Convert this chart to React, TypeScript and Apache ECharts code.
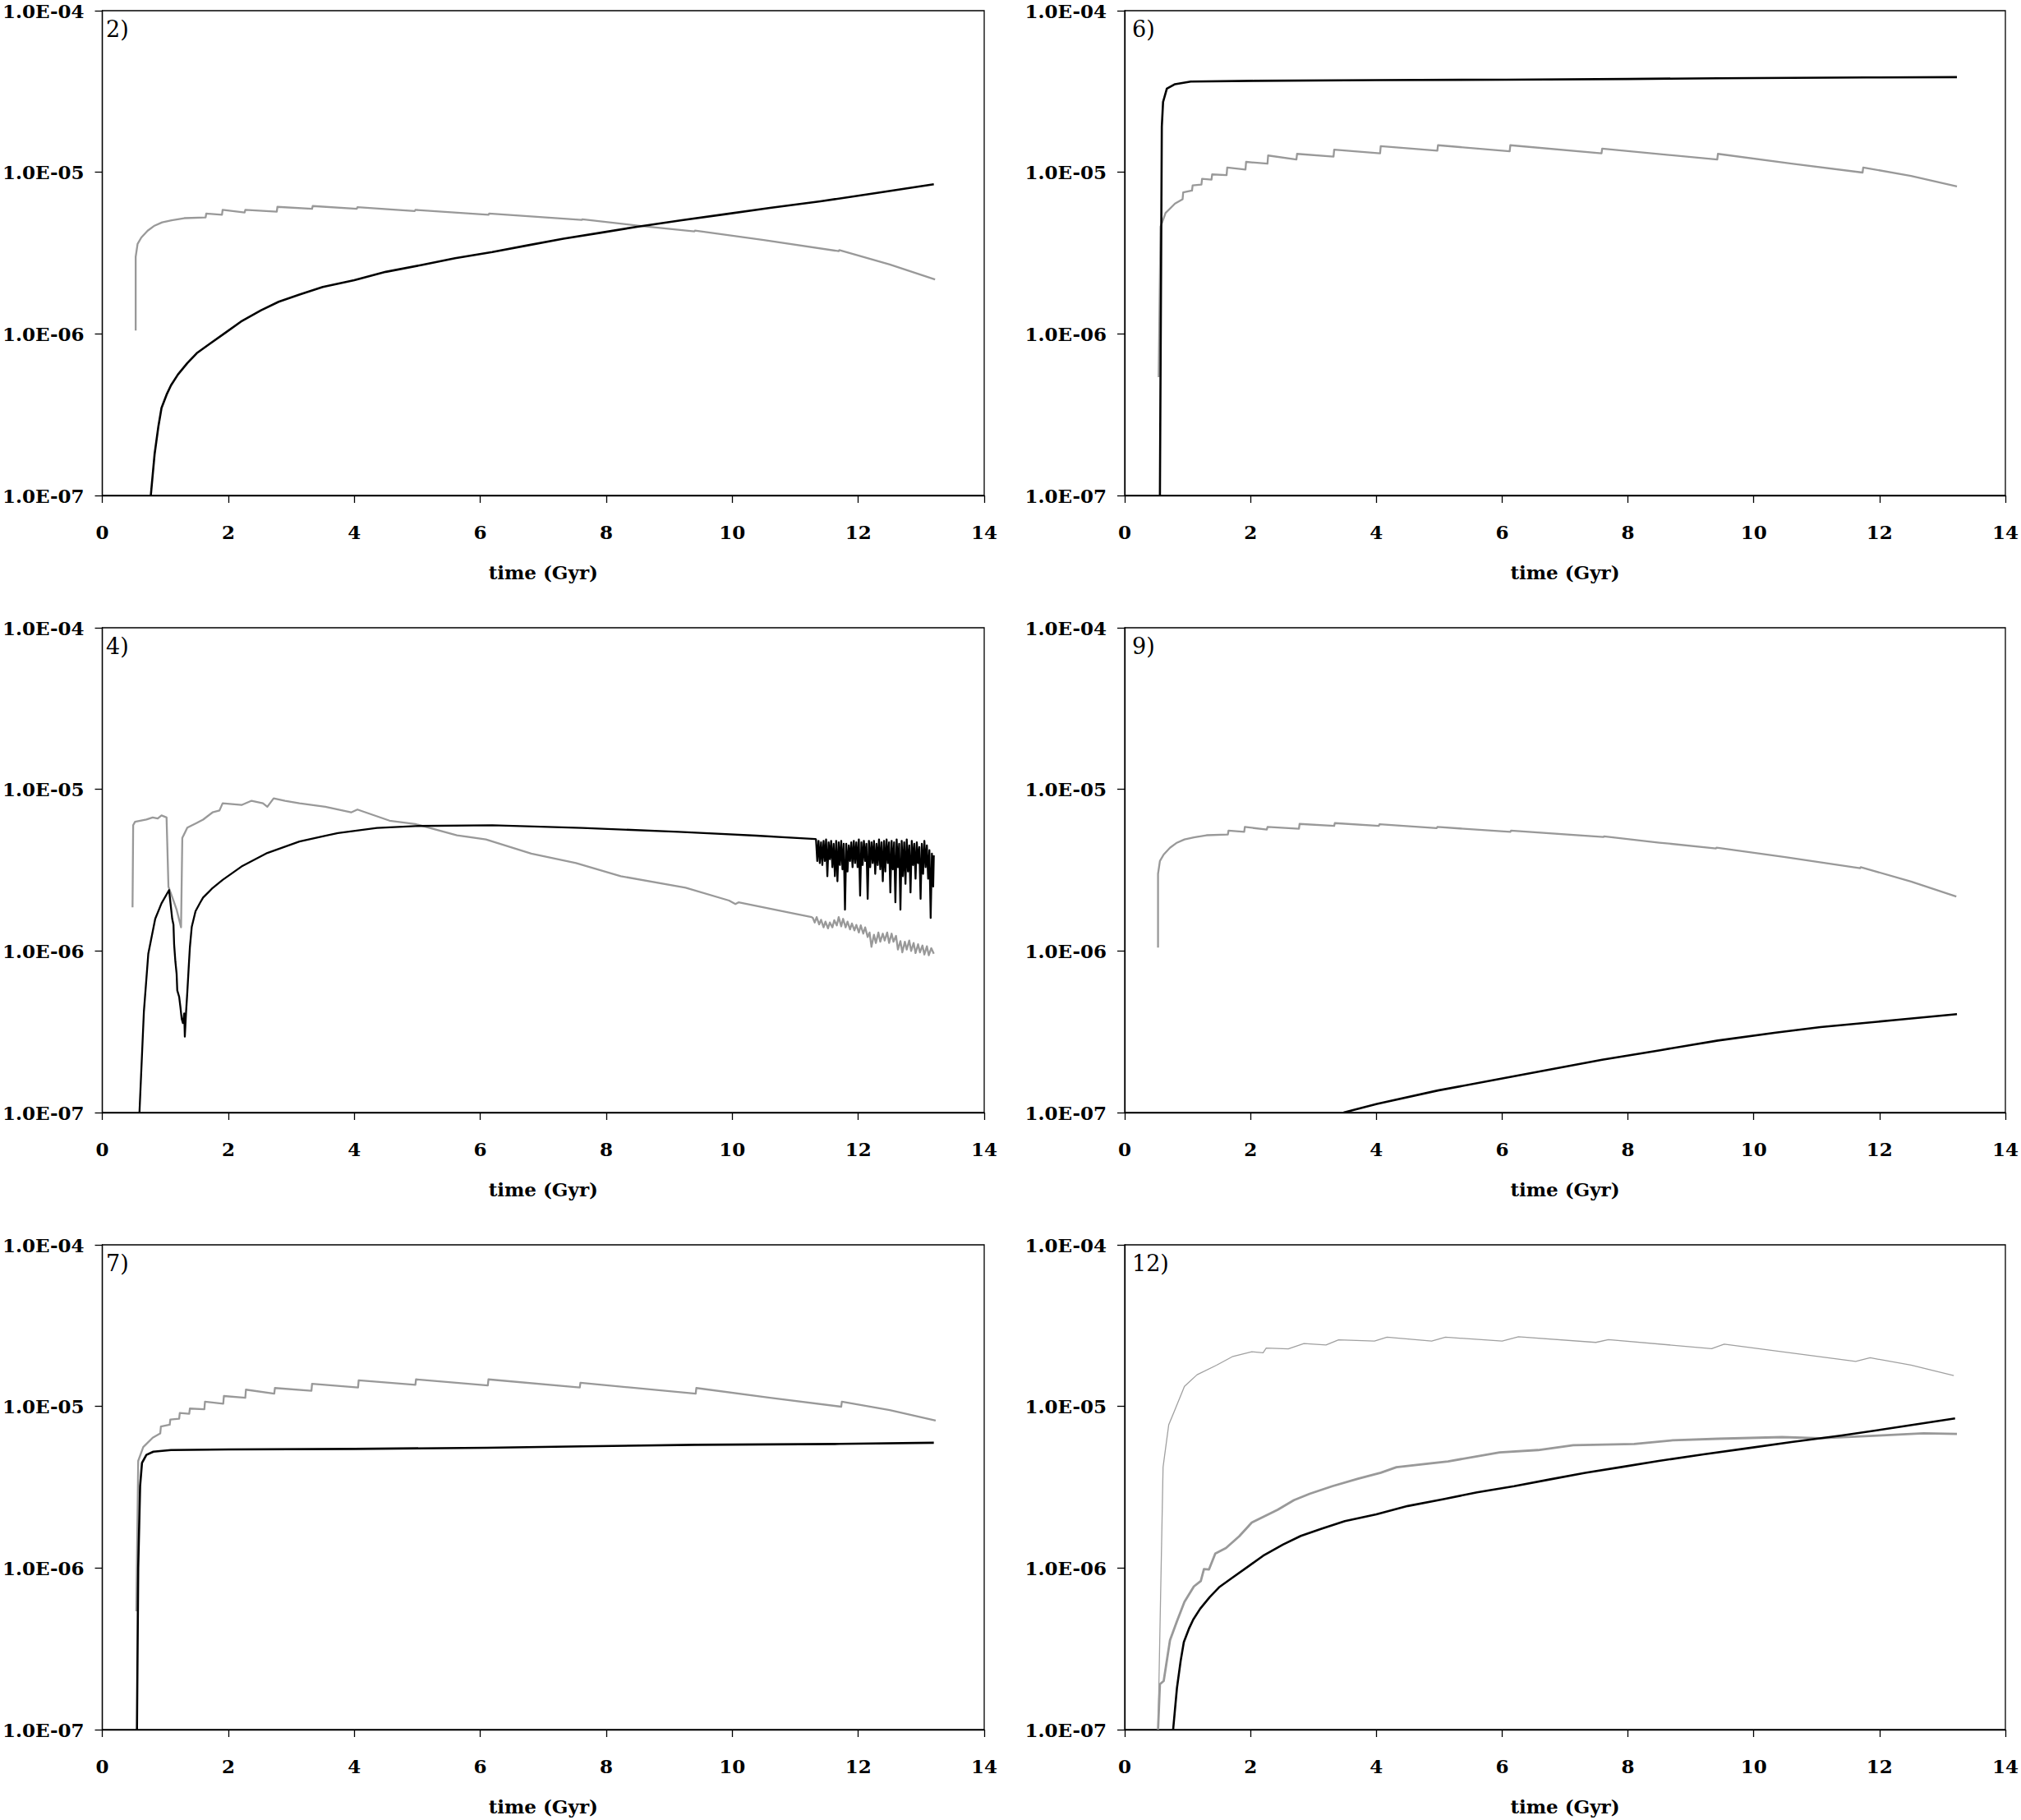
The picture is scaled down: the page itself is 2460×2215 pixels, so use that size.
import React, { useEffect, useRef } from "react";
import * as echarts from "echarts";

// ---------- DATA (time in Gyr, abundance) ----------
const panelLabels = ["2)", "6)", "4)", "9)", "7)", "12)"];

// gray curve shared by panels 2) and 9)
const grayA: number[][] = [
  [0.53, 1.05e-6], [0.53, 3.0e-6], [0.56, 3.6e-6], [0.62, 3.95e-6], [0.72, 4.35e-6],
  [0.82, 4.65e-6], [0.95, 4.9e-6], [1.1, 5.05e-6], [1.3, 5.2e-6], [1.64, 5.26e-6],
  [1.65, 5.55e-6], [1.9, 5.46e-6], [1.91, 5.85e-6], [2.26, 5.64e-6], [2.27, 5.85e-6],
  [2.77, 5.7e-6], [2.78, 6.11e-6], [3.33, 5.94e-6], [3.34, 6.18e-6], [4.04, 5.94e-6],
  [4.05, 6.08e-6], [4.96, 5.76e-6], [4.97, 5.85e-6], [6.13, 5.46e-6], [6.14, 5.55e-6],
  [7.61, 5.07e-6], [7.62, 5.12e-6], [8.5, 4.68e-6], [9.4, 4.31e-6], [9.41, 4.36e-6],
  [10.5, 3.81e-6], [11.69, 3.25e-6], [11.7, 3.3e-6], [12.5, 2.69e-6], [13.22, 2.17e-6],
];

// black curve shared by panels 2) and 12)
const blackA: number[][] = [
  [0.77, 1e-7], [0.83, 1.8e-7], [0.89, 2.67e-7], [0.94, 3.48e-7], [1.02, 4.2e-7],
  [1.09, 4.8e-7], [1.2, 5.6e-7], [1.35, 6.6e-7], [1.5, 7.6e-7], [1.7, 8.65e-7],
  [1.96, 1.02e-6], [2.2, 1.19e-6], [2.52, 1.4e-6], [2.8, 1.58e-6], [3.13, 1.75e-6],
  [3.5, 1.95e-6], [4.0, 2.15e-6], [4.5, 2.42e-6], [5.07, 2.67e-6], [5.6, 2.94e-6],
  [6.19, 3.21e-6], [6.75, 3.53e-6], [7.32, 3.88e-6], [7.9, 4.22e-6], [8.49, 4.6e-6],
  [9.2, 5.05e-6], [9.87, 5.49e-6], [10.6, 6.02e-6], [11.4, 6.61e-6], [12.3, 7.45e-6],
  [13.2, 8.43e-6],
];

// gray curve shared by panels 6) and 7)
const grayB: number[][] = [
  [0.54, 5.4e-7], [0.57, 4.6e-6], [0.65, 5.6e-6], [0.8, 6.4e-6], [0.92, 6.8e-6],
  [0.93, 7.5e-6], [1.07, 7.7e-6], [1.08, 8.3e-6], [1.22, 8.4e-6], [1.23, 9.1e-6],
  [1.38, 9.0e-6], [1.39, 9.7e-6], [1.62, 9.6e-6], [1.63, 1.07e-5], [1.92, 1.04e-5],
  [1.93, 1.16e-5], [2.27, 1.13e-5], [2.28, 1.27e-5], [2.73, 1.2e-5], [2.74, 1.3e-5],
  [3.32, 1.25e-5], [3.33, 1.38e-5], [4.06, 1.31e-5], [4.07, 1.45e-5], [4.97, 1.36e-5],
  [4.98, 1.47e-5], [6.12, 1.35e-5], [6.13, 1.47e-5], [7.58, 1.31e-5], [7.59, 1.4e-5],
  [9.42, 1.2e-5], [9.43, 1.3e-5], [10.6, 1.13e-5], [11.73, 9.96e-6], [11.74, 1.07e-5],
  [12.5, 9.5e-6], [13.23, 8.17e-6],
];

// panel 6) black
const black6: number[][] = [
  [0.56, 1e-7], [0.59, 1.92e-5], [0.61, 2.72e-5], [0.67, 3.29e-5], [0.8, 3.51e-5],
  [1.05, 3.64e-5], [2.07, 3.68e-5], [4.0, 3.72e-5], [6.06, 3.74e-5], [8.0, 3.78e-5],
  [9.43, 3.82e-5], [11.78, 3.86e-5], [13.23, 3.88e-5],
];

// panel 4) gray
const gray4: number[][] = [
  [0.48, 1.86e-6], [0.49, 6.0e-6], [0.52, 6.3e-6], [0.7, 6.5e-6], [0.8, 6.7e-6],
  [0.88, 6.6e-6], [0.94, 6.9e-6], [1.02, 6.7e-6], [1.05, 2.5e-6], [1.12, 2.1e-6],
  [1.18, 1.8e-6], [1.25, 1.4e-6], [1.27, 5.0e-6], [1.35, 5.8e-6], [1.5, 6.2e-6],
  [1.6, 6.5e-6], [1.75, 7.2e-6], [1.86, 7.4e-6], [1.91, 8.2e-6], [2.21, 8.0e-6],
  [2.37, 8.5e-6], [2.55, 8.2e-6], [2.62, 7.8e-6], [2.72, 8.8e-6], [2.9, 8.5e-6],
  [3.13, 8.2e-6], [3.54, 7.8e-6], [3.95, 7.2e-6], [4.05, 7.5e-6], [4.56, 6.4e-6],
  [4.97, 6.1e-6], [5.63, 5.2e-6], [6.09, 4.9e-6], [6.81, 4.0e-6], [7.52, 3.5e-6],
  [8.23, 2.9e-6], [9.26, 2.46e-6], [9.95, 2.05e-6], [10.05, 1.95e-6], [10.1, 2.0e-6],
  [11.0, 1.7e-6], [11.26, 1.62e-6],
  [11.28, 1.6e-6], [11.31, 1.5e-6], [11.34, 1.62e-6], [11.38, 1.46e-6], [11.41, 1.56e-6],
  [11.45, 1.4e-6], [11.48, 1.52e-6], [11.52, 1.38e-6], [11.55, 1.5e-6], [11.59, 1.4e-6],
  [11.62, 1.55e-6], [11.66, 1.44e-6], [11.69, 1.62e-6], [11.73, 1.42e-6], [11.76, 1.58e-6],
  [11.8, 1.4e-6], [11.83, 1.52e-6], [11.87, 1.36e-6], [11.9, 1.48e-6], [11.94, 1.34e-6],
  [11.97, 1.45e-6], [12.01, 1.3e-6], [12.04, 1.44e-6], [12.08, 1.28e-6], [12.11, 1.4e-6],
  [12.15, 1.22e-6], [12.18, 1.3e-6], [12.21, 1.06e-6], [12.25, 1.26e-6], [12.28, 1.12e-6],
  [12.32, 1.3e-6], [12.35, 1.14e-6], [12.39, 1.28e-6], [12.42, 1.16e-6], [12.46, 1.3e-6],
  [12.49, 1.12e-6], [12.53, 1.28e-6], [12.56, 1.14e-6], [12.6, 1.24e-6], [12.63, 1.02e-6],
  [12.67, 1.15e-6], [12.7, 0.98e-6], [12.74, 1.14e-6], [12.77, 1.02e-6], [12.81, 1.16e-6],
  [12.84, 1.0e-6], [12.88, 1.12e-6], [12.91, 0.97e-6], [12.95, 1.1e-6], [12.98, 0.98e-6],
  [13.02, 1.08e-6], [13.05, 0.95e-6], [13.09, 1.07e-6], [13.12, 0.94e-6], [13.16, 1.04e-6],
  [13.2, 0.96e-6],
];

// panel 4) black
const black4: number[][] = [
  [0.59, 1e-7], [0.66, 4.2e-7], [0.73, 9.6e-7], [0.84, 1.58e-6], [0.94, 1.97e-6],
  [1.06, 2.38e-6], [1.11, 1.58e-6], [1.13, 1.45e-6], [1.14, 1.1e-6], [1.16, 8.6e-7],
  [1.18, 7.2e-7], [1.19, 5.7e-7], [1.22, 5.2e-7], [1.24, 4.5e-7], [1.26, 3.8e-7],
  [1.28, 3.58e-7], [1.3, 4.1e-7], [1.31, 2.95e-7], [1.33, 4.2e-7], [1.35, 5.6e-7],
  [1.37, 7.7e-7], [1.39, 1.05e-6], [1.42, 1.41e-6], [1.48, 1.76e-6], [1.55, 1.98e-6],
  [1.6, 2.14e-6], [1.75, 2.45e-6], [1.91, 2.75e-6], [2.21, 3.33e-6], [2.62, 4.04e-6],
  [3.13, 4.76e-6], [3.74, 5.37e-6], [4.36, 5.77e-6], [4.97, 5.93e-6],
  [6.19, 6.0e-6], [7.62, 5.77e-6], [9.15, 5.46e-6], [10.38, 5.17e-6], [11.32, 4.93e-6],
  [11.33, 4.9e-6], [11.35, 3.6e-6], [11.37, 4.8e-6], [11.39, 3.5e-6], [11.41, 4.7e-6],
  [11.43, 3.4e-6], [11.45, 4.8e-6], [11.47, 3.6e-6], [11.49, 4.9e-6], [11.51, 2.9e-6],
  [11.53, 4.7e-6], [11.55, 3.7e-6], [11.57, 4.8e-6], [11.59, 3.3e-6], [11.61, 4.6e-6],
  [11.63, 2.9e-6], [11.65, 4.8e-6], [11.67, 2.7e-6], [11.69, 4.7e-6], [11.71, 3.4e-6],
  [11.73, 4.8e-6], [11.75, 3.2e-6], [11.77, 4.6e-6], [11.79, 1.8e-6], [11.81, 4.6e-6],
  [11.83, 3.1e-6], [11.85, 4.5e-6], [11.87, 3.6e-6], [11.89, 4.7e-6], [11.91, 3.3e-6],
  [11.93, 4.8e-6], [11.95, 3.5e-6], [11.97, 4.7e-6], [11.99, 3.3e-6], [12.01, 4.9e-6],
  [12.03, 2.2e-6], [12.05, 4.7e-6], [12.07, 3.4e-6], [12.09, 4.8e-6], [12.11, 3.6e-6],
  [12.13, 4.6e-6], [12.15, 2.1e-6], [12.17, 4.8e-6], [12.19, 3.3e-6], [12.21, 4.7e-6],
  [12.23, 3.5e-6], [12.25, 4.8e-6], [12.27, 3.0e-6], [12.29, 4.6e-6], [12.31, 3.4e-6],
  [12.33, 4.9e-6], [12.35, 3.2e-6], [12.37, 4.7e-6], [12.39, 2.7e-6], [12.41, 4.8e-6],
  [12.43, 3.1e-6], [12.45, 4.9e-6], [12.47, 3.5e-6], [12.49, 4.7e-6], [12.51, 2.3e-6],
  [12.53, 4.8e-6], [12.55, 3.2e-6], [12.57, 4.7e-6], [12.59, 2.0e-6], [12.61, 4.9e-6],
  [12.63, 3.3e-6], [12.65, 4.6e-6], [12.67, 1.8e-6], [12.69, 4.8e-6], [12.71, 2.9e-6],
  [12.73, 4.7e-6], [12.75, 2.6e-6], [12.77, 4.9e-6], [12.79, 3.1e-6], [12.81, 4.5e-6],
  [12.83, 2.3e-6], [12.85, 4.8e-6], [12.87, 3.4e-6], [12.89, 4.6e-6], [12.91, 2.8e-6],
  [12.93, 4.7e-6], [12.95, 3.5e-6], [12.97, 4.4e-6], [12.99, 2.1e-6], [13.01, 4.6e-6],
  [13.03, 3.0e-6], [13.05, 4.8e-6], [13.07, 3.3e-6], [13.09, 4.5e-6], [13.11, 2.8e-6],
  [13.13, 4.2e-6], [13.15, 1.6e-6], [13.17, 4.0e-6], [13.19, 2.5e-6], [13.2, 3.9e-6],
];

// panel 9) black
const black9: number[][] = [
  [3.48, 1e-7], [4.01, 1.13e-7], [4.98, 1.37e-7], [5.95, 1.61e-7], [6.77, 1.85e-7],
  [7.59, 2.12e-7], [8.51, 2.43e-7], [9.43, 2.79e-7], [10.35, 3.12e-7], [11.06, 3.38e-7],
  [12.2, 3.72e-7], [13.23, 4.06e-7],
];

// panel 7) black
const black7: number[][] = [
  [0.55, 1e-7], [0.57, 1.0e-6], [0.6, 3.21e-6], [0.63, 4.47e-6], [0.7, 5.01e-6],
  [0.81, 5.25e-6], [1.09, 5.37e-6], [2.0, 5.42e-6], [4.0, 5.46e-6], [6.1, 5.55e-6],
  [7.62, 5.66e-6], [9.41, 5.79e-6], [11.7, 5.86e-6], [13.2, 5.96e-6],
];

// panel 12) thin light gray
const thin12: number[][] = [
  [0.53, 1e-7], [0.61, 4.21e-6], [0.7, 7.7e-6], [0.8, 9.57e-6], [0.95, 1.33e-5],
  [1.15, 1.57e-5], [1.46, 1.8e-5], [1.72, 2.04e-5], [2.02, 2.18e-5], [2.2, 2.15e-5],
  [2.25, 2.3e-5], [2.6, 2.27e-5], [2.85, 2.45e-5], [3.2, 2.4e-5], [3.4, 2.58e-5],
  [3.97, 2.54e-5], [4.17, 2.68e-5], [4.88, 2.54e-5], [5.1, 2.68e-5], [6.0, 2.54e-5],
  [6.26, 2.7e-5], [7.49, 2.49e-5], [7.69, 2.59e-5], [9.33, 2.28e-5], [9.53, 2.43e-5],
  [11.62, 1.9e-5], [11.85, 2.0e-5], [12.5, 1.8e-5], [13.18, 1.55e-5],
];

// panel 12) thick gray
const thick12: number[][] = [
  [0.53, 1e-7], [0.56, 1.91e-7], [0.62, 2.0e-7], [0.72, 3.57e-7], [0.83, 4.68e-7],
  [0.95, 6.17e-7], [1.1, 7.69e-7], [1.21, 8.32e-7], [1.26, 9.84e-7], [1.34, 9.8e-7],
  [1.44, 1.23e-6], [1.61, 1.33e-6], [1.82, 1.57e-6], [2.02, 1.91e-6], [2.43, 2.29e-6],
  [2.69, 2.63e-6], [2.94, 2.88e-6], [3.3, 3.21e-6], [3.71, 3.57e-6], [4.07, 3.89e-6],
  [4.32, 4.21e-6], [5.14, 4.57e-6], [5.96, 5.19e-6], [6.57, 5.37e-6], [7.13, 5.75e-6],
  [8.1, 5.85e-6], [8.71, 6.17e-6], [9.43, 6.31e-6], [10.45, 6.46e-6], [11.06, 6.35e-6],
  [11.98, 6.61e-6], [12.7, 6.82e-6], [13.23, 6.76e-6],
];

// ---------- STYLE / LAYOUT ----------
const FONT = "DejaVu Serif";
const GRAY = "#999999";
const BLACK = "#000000";
const gridLefts = [120, 1369];
const gridTops = [13, 764, 1515];
const GRID_W = 1078;
const GRID_H = 590;

type Line = { data: number[][]; color: string; width: number };
const panelSeries: Line[][] = [
  [
    { data: grayA, color: GRAY, width: 2.3 },
    { data: blackA, color: BLACK, width: 2.6 },
  ],
  [
    { data: grayB, color: GRAY, width: 2.3 },
    { data: black6, color: BLACK, width: 2.6 },
  ],
  [
    { data: gray4, color: GRAY, width: 2.3 },
    { data: black4, color: BLACK, width: 2.3 },
  ],
  [
    { data: grayA, color: GRAY, width: 2.3 },
    { data: black9, color: BLACK, width: 2.6 },
  ],
  [
    { data: grayB, color: GRAY, width: 2.3 },
    { data: black7, color: BLACK, width: 2.6 },
  ],
  [
    { data: thin12, color: "#a0a0a0", width: 1.3 },
    { data: thick12, color: GRAY, width: 2.8 },
    { data: blackA, color: BLACK, width: 2.6 },
  ],
];

const fmtY = (v: number) => {
  const e = Math.round(Math.log10(v));
  return "1.0E" + (e < 0 ? "-" : "+") + String(Math.abs(e)).padStart(2, "0");
};

function buildOption() {
  const grid: any[] = [];
  const xAxis: any[] = [];
  const yAxis: any[] = [];
  const title: any[] = [];
  const series: any[] = [];
  panelLabels.forEach((lab, i) => {
    const left = gridLefts[i % 2];
    const top = gridTops[Math.floor(i / 2)];
    grid.push({
      left,
      top,
      width: GRID_W,
      height: GRID_H,
      show: true,
      borderColor: "#000",
      borderWidth: 1.3,
      backgroundColor: "transparent",
    });
    xAxis.push({
      gridIndex: i,
      type: "value",
      min: 0,
      max: 14,
      interval: 2,
      axisLine: { show: true, onZero: false, lineStyle: { color: "#000", width: 1.3 } },
      axisTick: { show: true, length: 9, lineStyle: { color: "#000", width: 1.3 } },
      axisLabel: {
        margin: 33,
        fontSize: 23,
        fontWeight: "bold",
        fontFamily: FONT,
        color: "#000",
      },
      splitLine: { show: false },
      name: "time (Gyr)",
      nameLocation: "middle",
      nameGap: 82,
      nameTextStyle: { fontSize: 23, fontWeight: "bold", fontFamily: FONT, color: "#000" },
    });
    yAxis.push({
      gridIndex: i,
      type: "log",
      logBase: 10,
      min: 1e-7,
      max: 1e-4,
      axisLine: { show: true, lineStyle: { color: "#000", width: 1.3 } },
      axisTick: { show: true, length: 9, lineStyle: { color: "#000", width: 1.3 } },
      minorTick: { show: false },
      axisLabel: {
        margin: 22,
        fontSize: 23,
        fontWeight: "bold",
        fontFamily: FONT,
        color: "#000",
        lineHeight: 20,
        formatter: fmtY,
      },
      splitLine: { show: false },
    });
    title.push({
      text: lab,
      left: left + 4,
      top: top + 4,
      textStyle: { fontFamily: FONT, fontSize: 27, fontWeight: "normal", color: "#000" },
    });
    panelSeries[i].forEach((s) => {
      series.push({
        type: "line",
        xAxisIndex: i,
        yAxisIndex: i,
        data: s.data,
        showSymbol: false,
        symbol: "none",
        clip: true,
        lineStyle: { color: s.color, width: s.width, join: "round" },
        emphasis: { disabled: true },
      });
    });
  });
  return {
    animation: false,
    backgroundColor: "#ffffff",
    title,
    grid,
    xAxis,
    yAxis,
    series,
  };
}

export default function App() {
  const ref = useRef<HTMLDivElement>(null);
  useEffect(() => {
    if (!ref.current) return;
    const chart = echarts.init(ref.current, undefined, { renderer: "svg" });
    chart.setOption(buildOption() as any);
    return () => chart.dispose();
  }, []);
  return (
    <div
      ref={ref}
      style={{ position: "absolute", left: 0, top: 0, width: 2460, height: 2215, background: "#fff" }}
    />
  );
}
